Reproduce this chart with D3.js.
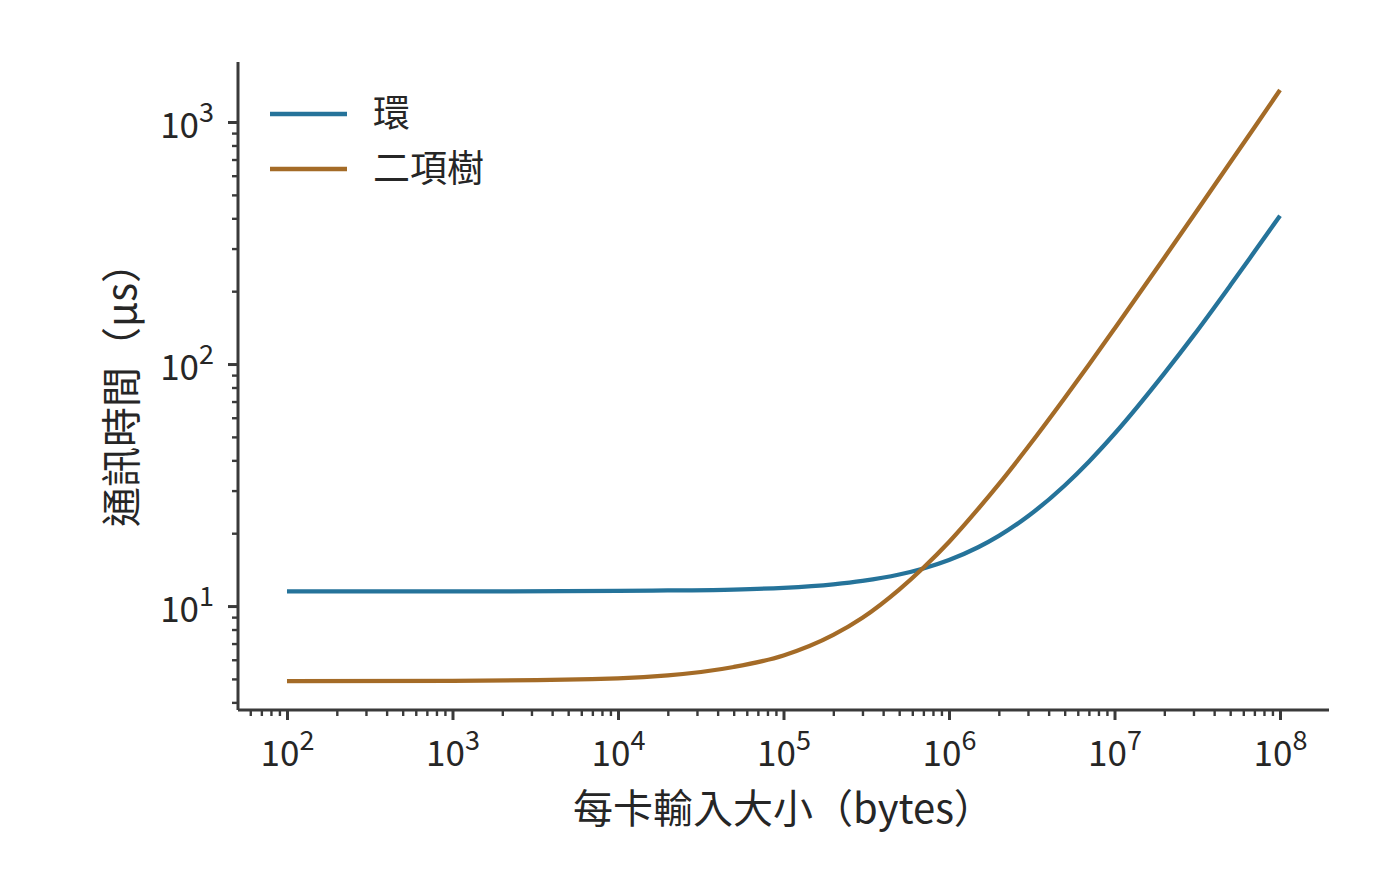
<!DOCTYPE html>
<html>
<head>
<meta charset="utf-8">
<script src="https://cdn.jsdelivr.net/npm/d3@7"></script>
<style>
  body { margin: 0; background: #fff; }
  svg text { font-family: "Noto Sans CJK TC", "Noto Sans CJK SC", "Noto Sans", sans-serif; fill: #262626; }
  .axis path, .axis line { stroke: #3a3a3a; }
</style>
</head>
<body>
<svg id="chart" width="1400" height="888"></svg>
<script>
// values (bytes per card -> time in microseconds)
var sizes = [1e2, 1e3, 1e4, 2e4, 5e4, 1e5, 2e5, 3e5, 5e5, 7e5, 1e6, 1.5e6, 2e6, 3e6, 5e6, 7e6, 1e7, 2e7, 3e7, 5e7, 7e7, 1e8];
var ring = [11.5, 11.5, 11.55, 11.6, 11.7, 11.9, 12.3, 12.7, 13.5, 14.3, 15.5, 17.5, 19.5, 23.5, 31.5, 39.5, 51.5, 91.5, 131, 211, 291, 410];
var tree = [4.9, 4.91, 5.03, 5.17, 5.6, 6.25, 7.6, 8.95, 11.7, 14.4, 18.4, 25.2, 31.9, 45.4, 72.4, 99.4, 140, 275, 410, 680, 950, 1355];
var series_names = ["環", "二項樹"];
var series_colors = ["#25739a", "#a46b27"];
var x_major = [1e2, 1e3, 1e4, 1e5, 1e6, 1e7, 1e8];
var y_major = [1e1, 1e2, 1e3];

var LEFT = 238, RIGHT = 1329, TOP = 62, BOTTOM = 710;

var svg = d3.select("#chart");

var x = d3.scaleLog()
    .domain([Math.pow(10, 1.704), Math.pow(10, 8.296)])
    .range([LEFT, RIGHT]);
var y = d3.scaleLog()
    .domain([3.72, 1770])
    .range([BOTTOM, TOP]);

function minor_ticks(scale) {
    var d = scale.domain(), out = [];
    for (var e = Math.floor(Math.log10(d[0])); e <= Math.ceil(Math.log10(d[1])); e++) {
        for (var m = 2; m <= 9; m++) {
            var v = m * Math.pow(10, e);
            if (v >= d[0] && v <= d[1]) out.push(v);
        }
    }
    return out;
}

function sup_label(sel, v) {
    var exp = Math.round(Math.log10(v));
    sel.text("10");
    sel.append("tspan")
        .attr("font-size", 27)
        .attr("dy", -16)
        .text(exp);
}

// x axis minor + major
svg.append("g")
    .attr("class", "axis")
    .attr("transform", "translate(0," + BOTTOM + ")")
    .call(d3.axisBottom(x).tickValues(minor_ticks(x)).tickSize(6).tickFormat(""))
    .call(g => g.selectAll("line").attr("stroke-width", 2.4))
    .call(g => g.select(".domain").remove());

var gx = svg.append("g")
    .attr("class", "axis")
    .attr("transform", "translate(0," + BOTTOM + ")")
    .call(d3.axisBottom(x).tickValues(x_major).tickSize(10).tickPadding(14).tickFormat(""));
gx.select(".domain").attr("d", "M" + LEFT + ",0H" + RIGHT).attr("stroke-width", 3);
gx.selectAll("line").attr("stroke-width", 3);
gx.selectAll(".tick text")
    .attr("font-size", 35)
    .attr("dy", "0.92em")
    .attr("fill", "#262626")
    .each(function(d) { sup_label(d3.select(this), d); });

// y axis minor + major
svg.append("g")
    .attr("class", "axis")
    .attr("transform", "translate(" + LEFT + ",0)")
    .call(d3.axisLeft(y).tickValues(minor_ticks(y)).tickSize(6).tickFormat(""))
    .call(g => g.selectAll("line").attr("stroke-width", 2.4))
    .call(g => g.select(".domain").remove());

var gy = svg.append("g")
    .attr("class", "axis")
    .attr("transform", "translate(" + LEFT + ",0)")
    .call(d3.axisLeft(y).tickValues(y_major).tickSize(10).tickPadding(14).tickFormat(""));
gy.select(".domain").attr("d", "M0," + TOP + "V" + BOTTOM).attr("stroke-width", 3);
gy.selectAll("line").attr("stroke-width", 3);
gy.selectAll(".tick text")
    .attr("font-size", 35)
    .attr("dy", "0.45em")
    .attr("fill", "#262626")
    .each(function(d) { sup_label(d3.select(this), d); });

// lines
var line = d3.line()
    .x(d => x(d[0]))
    .y(d => y(d[1]))
    .curve(d3.curveMonotoneX);

[ring, tree].forEach(function(vals, i) {
    svg.append("path")
        .datum(sizes.map((s, k) => [s, vals[k]]))
        .attr("fill", "none")
        .attr("stroke", series_colors[i])
        .attr("stroke-width", 4.3)
        .attr("d", line);
});

// legend
series_names.forEach(function(name, i) {
    var ly = 114 + i * 55;
    svg.append("line")
        .attr("x1", 270).attr("x2", 347)
        .attr("y1", ly).attr("y2", ly)
        .attr("stroke", series_colors[i])
        .attr("stroke-width", 4.3);
    svg.append("text")
        .attr("x", 373).attr("y", ly)
        .attr("dy", "0.36em")
        .attr("font-size", 37)
        .text(name);
});

// axis titles
svg.append("text")
    .attr("x", (LEFT + RIGHT) / 2)
    .attr("y", 823)
    .attr("text-anchor", "middle")
    .attr("font-size", 40)
    .text("每卡輸入大小（bytes）");

svg.append("text")
    .attr("transform", "translate(136," + ((TOP + BOTTOM) / 2 - 1) + ") rotate(-90)")
    .attr("text-anchor", "middle")
    .attr("font-size", 40)
    .text("通訊時間（μs）");
</script>
</body>
</html>
